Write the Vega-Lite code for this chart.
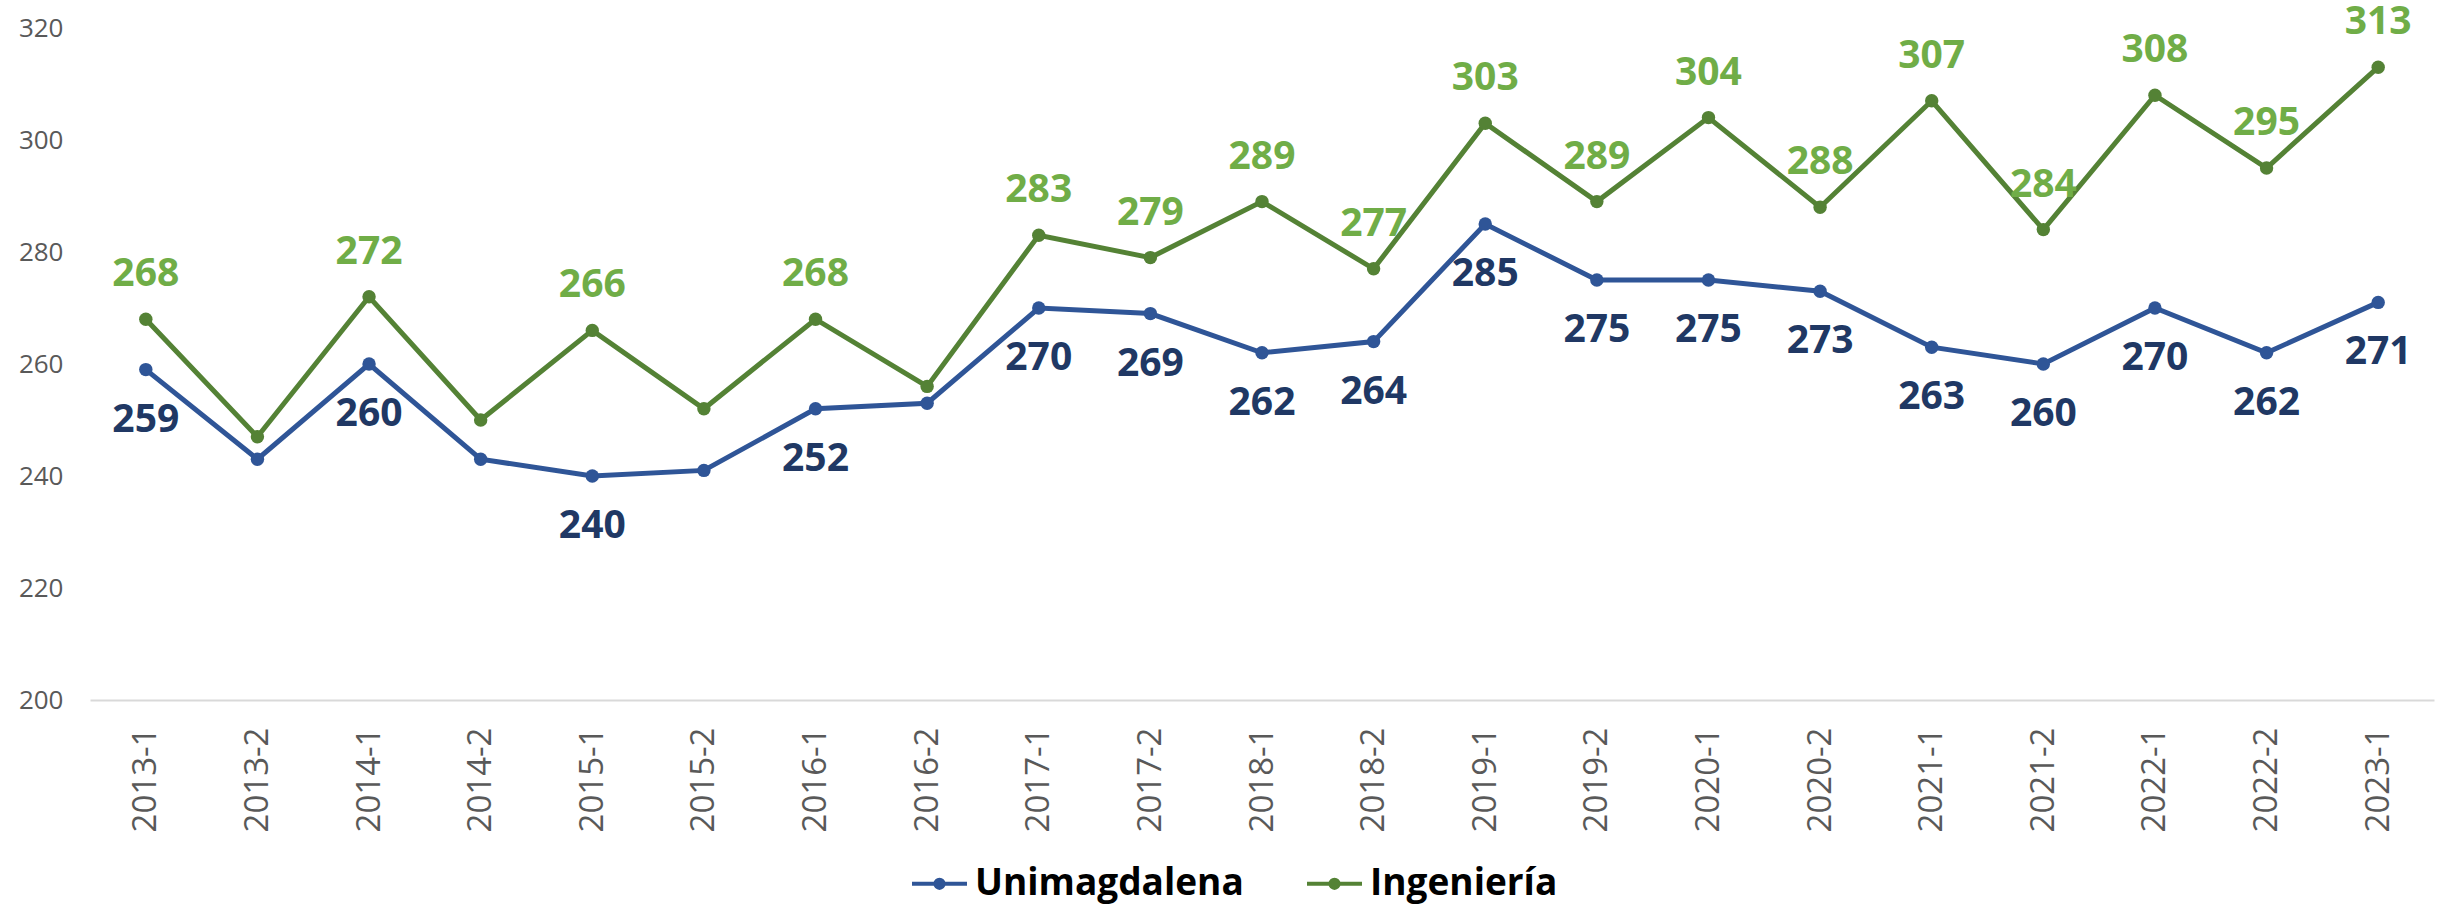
{
  "$schema": "https://vega.github.io/schema/vega-lite/v6.json",
  "autosize": {"type": "none"},
  "width": 2344,
  "height": 672,
  "padding": {"left": 90, "top": 28, "right": 16, "bottom": 206},
  "background": "#ffffff",
  "config": {
    "view": {"stroke": null},
    "font": "Open Sans"
  },
  "data": {
    "values": [
      {"periodo": "2013-1", "serie": "Unimagdalena", "valor": 259},
      {"periodo": "2013-2", "serie": "Unimagdalena", "valor": 243},
      {"periodo": "2014-1", "serie": "Unimagdalena", "valor": 260},
      {"periodo": "2014-2", "serie": "Unimagdalena", "valor": 243},
      {"periodo": "2015-1", "serie": "Unimagdalena", "valor": 240},
      {"periodo": "2015-2", "serie": "Unimagdalena", "valor": 241},
      {"periodo": "2016-1", "serie": "Unimagdalena", "valor": 252},
      {"periodo": "2016-2", "serie": "Unimagdalena", "valor": 253},
      {"periodo": "2017-1", "serie": "Unimagdalena", "valor": 270},
      {"periodo": "2017-2", "serie": "Unimagdalena", "valor": 269},
      {"periodo": "2018-1", "serie": "Unimagdalena", "valor": 262},
      {"periodo": "2018-2", "serie": "Unimagdalena", "valor": 264},
      {"periodo": "2019-1", "serie": "Unimagdalena", "valor": 285},
      {"periodo": "2019-2", "serie": "Unimagdalena", "valor": 275},
      {"periodo": "2020-1", "serie": "Unimagdalena", "valor": 275},
      {"periodo": "2020-2", "serie": "Unimagdalena", "valor": 273},
      {"periodo": "2021-1", "serie": "Unimagdalena", "valor": 263},
      {"periodo": "2021-2", "serie": "Unimagdalena", "valor": 260},
      {"periodo": "2022-1", "serie": "Unimagdalena", "valor": 270},
      {"periodo": "2022-2", "serie": "Unimagdalena", "valor": 262},
      {"periodo": "2023-1", "serie": "Unimagdalena", "valor": 271},
      {"periodo": "2013-1", "serie": "Ingeniería", "valor": 268},
      {"periodo": "2013-2", "serie": "Ingeniería", "valor": 247},
      {"periodo": "2014-1", "serie": "Ingeniería", "valor": 272},
      {"periodo": "2014-2", "serie": "Ingeniería", "valor": 250},
      {"periodo": "2015-1", "serie": "Ingeniería", "valor": 266},
      {"periodo": "2015-2", "serie": "Ingeniería", "valor": 252},
      {"periodo": "2016-1", "serie": "Ingeniería", "valor": 268},
      {"periodo": "2016-2", "serie": "Ingeniería", "valor": 256},
      {"periodo": "2017-1", "serie": "Ingeniería", "valor": 283},
      {"periodo": "2017-2", "serie": "Ingeniería", "valor": 279},
      {"periodo": "2018-1", "serie": "Ingeniería", "valor": 289},
      {"periodo": "2018-2", "serie": "Ingeniería", "valor": 277},
      {"periodo": "2019-1", "serie": "Ingeniería", "valor": 303},
      {"periodo": "2019-2", "serie": "Ingeniería", "valor": 289},
      {"periodo": "2020-1", "serie": "Ingeniería", "valor": 304},
      {"periodo": "2020-2", "serie": "Ingeniería", "valor": 288},
      {"periodo": "2021-1", "serie": "Ingeniería", "valor": 307},
      {"periodo": "2021-2", "serie": "Ingeniería", "valor": 284},
      {"periodo": "2022-1", "serie": "Ingeniería", "valor": 308},
      {"periodo": "2022-2", "serie": "Ingeniería", "valor": 295},
      {"periodo": "2023-1", "serie": "Ingeniería", "valor": 313}
    ]
  },
  "encoding": {
    "x": {
      "field": "periodo",
      "type": "ordinal",
      "sort": null,
      "scale": {"type": "point", "padding": 0.5},
      "axis": {
        "title": null,
        "labelAngle": -90,
        "labelFont": "Open Sans",
        "labelFontSize": 33,
        "labelColor": "#595959",
        "labelPadding": 27,
        "ticks": false,
        "domainColor": "#D9D9D9",
        "domainWidth": 2,
        "grid": false
      }
    },
    "y": {
      "field": "valor",
      "type": "quantitative",
      "scale": {"domain": [200, 320], "nice": false, "zero": false},
      "axis": {
        "title": null,
        "values": [200, 220, 240, 260, 280, 300, 320],
        "labelFont": "Open Sans",
        "labelFontSize": 26,
        "labelColor": "#595959",
        "labelPadding": 27,
        "ticks": false,
        "domain": false,
        "grid": false
      }
    }
  },
  "layer": [
    {
      "mark": {"type": "line", "strokeWidth": 5},
      "encoding": {
        "color": {
          "field": "serie",
          "type": "nominal",
          "sort": null,
          "scale": {"domain": ["Unimagdalena", "Ingeniería"], "range": ["#2F5597", "#548235"]},
          "legend": {
            "title": null,
            "orient": "none",
            "legendX": 820,
            "legendY": 826,
            "direction": "horizontal",
            "symbolType": "M-1,0L1,0M-0.15,0A0.15,0.15,0,1,0,0.15,0A0.15,0.15,0,1,0,-0.15,0Z",
            "symbolSize": 3025,
            "symbolStrokeWidth": 4,
            "symbolOpacity": 1,
            "labelFont": "Open Sans",
            "labelFontSize": 37,
            "labelFontWeight": "bold",
            "labelColor": "#000000",
            "labelOffset": 6,
            "columnPadding": 55,
            "labelLimit": 1000
          }
        }
      }
    },
    {
      "mark": {"type": "point", "filled": true, "size": 180, "opacity": 1},
      "encoding": {
        "color": {"field": "serie", "type": "nominal", "sort": null}
      }
    },
    {
      "transform": [
        {"filter": "datum.serie == 'Ingeniería' && indexof(['2013-2','2014-2','2015-2','2016-2'], datum.periodo) < 0"}
      ],
      "mark": {"type": "text", "dy": -45, "baseline": "middle", "align": "center", "font": "Open Sans", "fontSize": 39, "fontWeight": "bold", "color": "#70AD47"},
      "encoding": {"text": {"field": "valor", "type": "quantitative", "format": "d"}}
    },
    {
      "transform": [
        {"filter": "datum.serie == 'Unimagdalena' && indexof(['2013-2','2014-2','2015-2','2016-2'], datum.periodo) < 0"}
      ],
      "mark": {"type": "text", "dy": 50, "baseline": "middle", "align": "center", "font": "Open Sans", "fontSize": 39, "fontWeight": "bold", "color": "#203864"},
      "encoding": {"text": {"field": "valor", "type": "quantitative", "format": "d"}}
    }
  ]
}
